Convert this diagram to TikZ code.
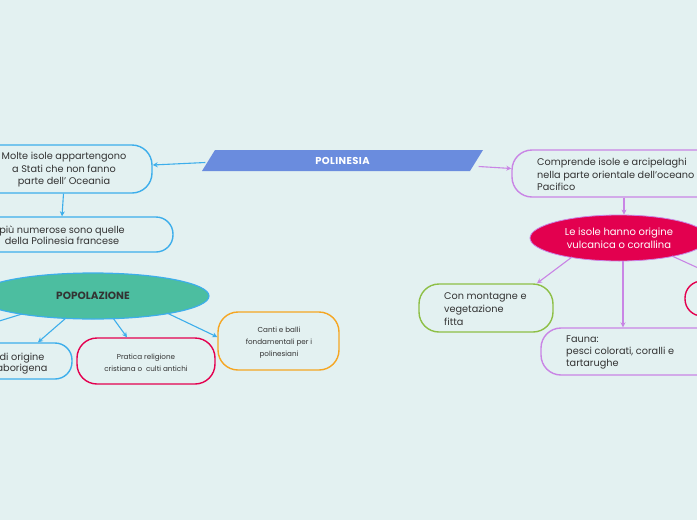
\documentclass[tikz,border=0pt]{standalone}
\usepackage{fontspec}
\setmainfont{Poppins}
\usetikzlibrary{arrows.meta,shapes.geometric}
\definecolor{bg}{HTML}{E3F1F1}
\definecolor{blu}{HTML}{3DAEEB}
\definecolor{polfill}{HTML}{6A8CDE}
\definecolor{teal}{HTML}{4CBEA0}
\definecolor{crim}{HTML}{E3004F}
\definecolor{orng}{HTML}{F5A623}
\definecolor{purp}{HTML}{C985E5}
\definecolor{grn}{HTML}{8DBF46}
\definecolor{txtc}{HTML}{333333}
\begin{document}
\begin{tikzpicture}[x=1pt,y=-1pt,
  box/.style={draw, line width=1.4pt, rounded corners=20pt, inner sep=0pt, text=txtc},
  txt/.style={inner sep=0pt, text=txtc, font=\fontsize{9.7}{12.5}\selectfont},
  small/.style={inner sep=0pt, text=txtc, font=\fontsize{7.2}{12}\selectfont, align=center},
  arrb/.style={draw=blu, line width=1.1pt, -{Stealth[length=5pt,width=5pt]}},
  arrp/.style={draw=purp, line width=1.1pt, -{Stealth[length=5pt,width=5pt]}}]
\useasboundingbox (0,0) rectangle (697,520);
\fill[bg] (0,0) rectangle (697,520);
\clip (0,0) rectangle (697,520);

% central title
\fill[polfill] (215,150) -- (483,150) -- (470,171) -- (202,171) -- cycle;
\node[inner sep=0pt, minimum width=268pt, minimum height=21pt, text=white,
  font=\fontsize{10}{12}\selectfont\bfseries\addfontfeatures{LetterSpace=4}] (pol) at (342.5,160.5) {POLINESIA};

% left branch
\node[box, draw=blu, minimum width=177pt, minimum height=48pt] (molte) at (63.5,169) {};
\node[txt, align=center] (moltet) at (64,170) {Molte isole appartengono\\a Stati che non fanno\\parte dell’ Oceania};
\node[box, draw=blu, rounded corners=17pt, minimum width=222pt, minimum height=35pt] (piu) at (62,234.5) {};
\node[txt, align=center, font=\fontsize{9.7}{11}\selectfont] (piut) at (62,235.5) {più numerose sono quelle\\della Polinesia francese};

\node[draw=blu, fill=teal, line width=1.2pt, ellipse, minimum width=232pt, minimum height=46pt,
  inner sep=0pt, text=txtc, font=\fontsize{10.5}{12}\selectfont\bfseries] (pop) at (93,296) {POPOLAZIONE};

\node[box, draw=blu, rounded corners=17pt, minimum width=102pt, minimum height=36pt] (orig) at (21,361) {};
\node[txt, align=center, font=\fontsize{9.7}{11.5}\selectfont] (origt) at (22,363.5) {di origine\\aborigena};
\node[box, draw=crim, minimum width=138pt, minimum height=46pt] (prat) at (146,361) {};
\node[small] (pratt) at (146,363) {Pratica religione\\cristiana o \ culti antichi};
\node[box, draw=orng, minimum width=121pt, minimum height=58pt] (canti) at (278.5,341) {};
\node[small] (cantit) at (279,343) {Canti e balli\\fondamentali per i\\polinesiani};
\coordinate (offl) at (-30,330);

% right branch
\node[box, draw=purp, minimum width=228pt, minimum height=47pt] (comp) at (626,173.5) {};
\node[txt, anchor=west, align=left] (compt) at (537,174.5) {Comprende isole e arcipelaghi\\nella parte orientale dell’oceano\\Pacifico};
\node[draw=purp, fill=crim, line width=0.8pt, ellipse, minimum width=178pt, minimum height=46pt,
  inner sep=0pt, text=white, align=center, font=\fontsize{10}{12.5}\selectfont] (isole) at (619,238) {Le isole hanno origine\\vulcanica o corallina};
\node[box, draw=grn, minimum width=134pt, minimum height=48pt] (mont) at (486,308) {};
\node[txt, anchor=west, align=left, font=\fontsize{9.7}{13}\selectfont] (montt) at (444,309) {Con montagne e\\vegetazione\\fitta};
\node[box, draw=purp, minimum width=200pt, minimum height=47pt] (fauna) at (641,351.5) {};
\node[txt, anchor=west, align=left, font=\fontsize{9.7}{12}\selectfont] (faunat) at (566,352) {Fauna:\\pesci colorati, coralli e\\tartarughe};
\node[box, draw=crim, rounded corners=17pt, minimum width=100pt, minimum height=35pt] (redr) at (735,298.5) {};

% connectors
\draw[arrb] ([xshift=-3pt,yshift=-2pt]pol.west) -- ([yshift=4pt]molte.east);
\draw[arrb] (molte.south) -- (piu.north);
\draw[blu, line width=1.1pt] ([shift={(-71,18)}]pop.center) -- (offl);
\draw[arrb] ([shift={(-27,22)}]pop.center) -- ([xshift=17pt]orig.north);
\draw[arrb] ([shift={(20,22)}]pop.center) -- ([xshift=-19pt]prat.north);
\draw[arrb] ([shift={(74,17)}]pop.center) -- ([yshift=4pt]canti.west);
\draw[arrp] ([xshift=2pt,yshift=-6pt]pol.east) -- ([yshift=5pt]comp.west);
\draw[arrp] ([xshift=-2pt]comp.south) -- ([xshift=5pt]isole.north);
\draw[arrp] ([shift={(-47,19)}]isole.center) -- ([xshift=51pt]mont.north);
\draw[arrp] ([xshift=4pt]isole.south) -- ([xshift=-18pt]fauna.north);
\draw[arrp] ([shift={(53,18)}]isole.center) -- ([xshift=-10pt]redr.north);
\end{tikzpicture}
\end{document}
